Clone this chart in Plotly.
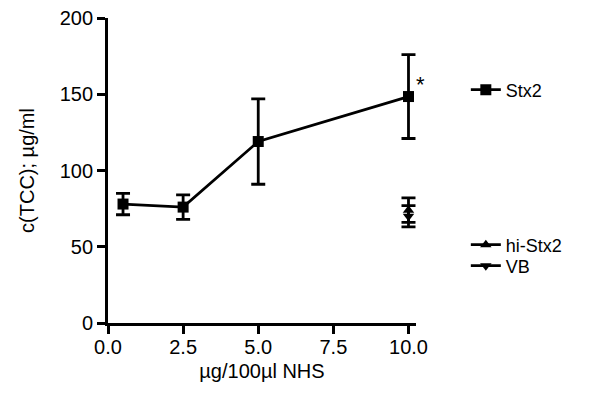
import plotly.graph_objects as go

x_stx2 = [0.5, 2.5, 5.0, 10.0]
y_stx2 = [78, 76, 119, 148.5]
e_stx2 = [7, 8, 28, 27.5]

x_hi = [10.0]
y_hi = [74]
e_hi = [8]

x_vb = [10.0]
y_vb = [70]
e_vb = [7]

x_ticks = [0.0, 2.5, 5.0, 7.5, 10.0]
x_tick_labels = ["0.0", "2.5", "5.0", "7.5", "10.0"]
y_ticks = [0, 50, 100, 150, 200]

font = "Liberation Sans, Arial, sans-serif"

fig = go.Figure()
fig.add_trace(go.Scatter(
    x=x_stx2, y=y_stx2, mode="lines+markers", name="Stx2", legend="legend",
    showlegend=True,
    line=dict(color="black", width=2.8),
    marker=dict(symbol="square", size=11, color="black"),
    error_y=dict(type="data", array=e_stx2, color="black", thickness=2.8, width=7),
))
fig.add_trace(go.Scatter(
    x=x_hi, y=y_hi, mode="lines+markers", name="hi-Stx2", legend="legend2",
    showlegend=True,
    line=dict(color="black", width=2.8),
    marker=dict(symbol="triangle-up", size=10, color="black"),
    error_y=dict(type="data", array=e_hi, color="black", thickness=2.8, width=7),
))
fig.add_trace(go.Scatter(
    x=x_vb, y=y_vb, mode="lines+markers", name="VB", legend="legend3",
    showlegend=True,
    line=dict(color="black", width=2.8),
    marker=dict(symbol="triangle-down", size=10, color="black"),
    error_y=dict(type="data", array=e_vb, color="black", thickness=2.8, width=7),
))

fig.add_annotation(x=10.0, y=y_stx2[3], text="*", showarrow=False,
                   xshift=12, yshift=12, font=dict(family=font, size=22, color="black"))

leg_common = dict(xref="container", yref="container", x=0.758, xanchor="left",
                  yanchor="middle", font=dict(family=font, size=18, color="black"),
                  bgcolor="rgba(0,0,0,0)")

fig.update_layout(
    width=604, height=399,
    showlegend=True,
    margin=dict(l=100, r=196, t=10, b=84, autoexpand=False),
    plot_bgcolor="white", paper_bgcolor="white",
    font=dict(family=font, size=20, color="black"),
    legend=dict(y=0.7945, **leg_common),
    legend2=dict(y=0.406, **leg_common),
    legend3=dict(y=0.3534, **leg_common),
    xaxis=dict(range=[0, 10.25], tickvals=x_ticks, ticktext=x_tick_labels,
               showgrid=False, zeroline=False, showline=True, linecolor="black",
               linewidth=2.8, ticks="outside", ticklen=8, tickwidth=2.8,
               tickcolor="black", automargin=False, ticklabeloverflow="allow",
               ticklabelstandoff=-4,
               tickfont=dict(size=20),
               title=dict(text="µg/100µl NHS", font=dict(size=20), standoff=8)),
    yaxis=dict(range=[0, 200], tickvals=y_ticks, showgrid=False, zeroline=False,
               showline=True, linecolor="black", linewidth=2.8, ticks="outside",
               ticklen=8, tickwidth=2.8, tickcolor="black", automargin=False,
               ticklabeloverflow="allow",
               tickfont=dict(size=20),
               title=dict(text="c(TCC); µg/ml", font=dict(size=20), standoff=20)),
)

fig.write_html("out.html")
